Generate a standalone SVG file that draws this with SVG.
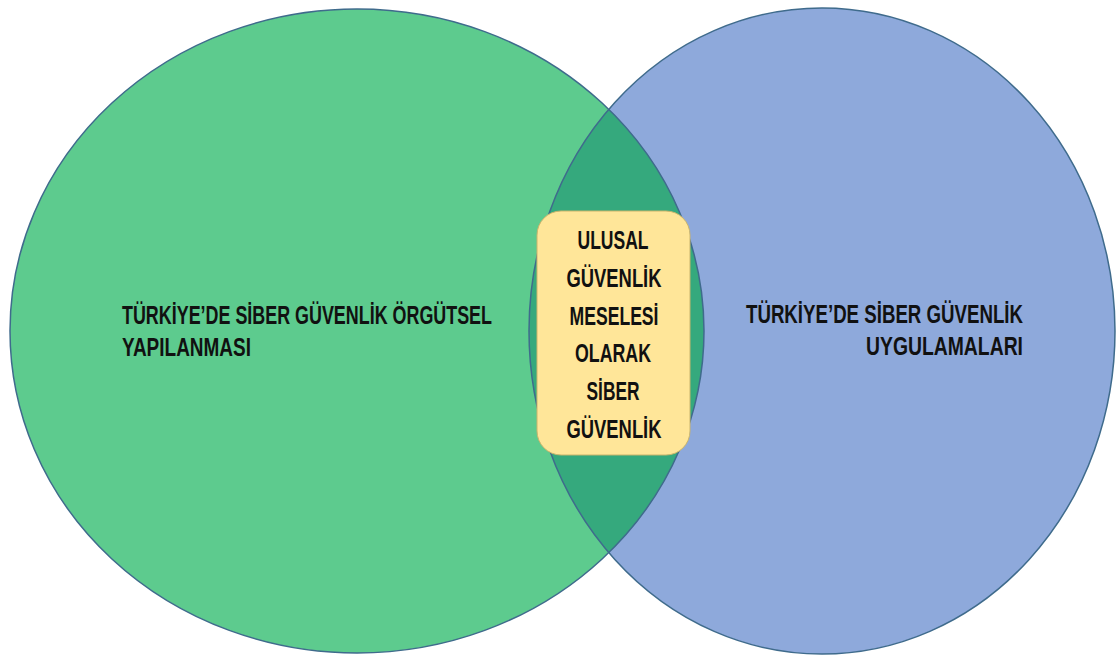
<svg xmlns="http://www.w3.org/2000/svg" width="1117" height="656" viewBox="0 0 1117 656">
  <style>
    .lbl { font-family: "Liberation Sans Narrow", "Liberation Sans", "DejaVu Sans Condensed", sans-serif; font-weight: bold; font-size: 26px; fill: #111111; }
    .ctr { text-anchor: middle; }
    .edge { fill: none; stroke: #3F6B8C; stroke-width: 1.5; }
  </style>
  <defs>
    <clipPath id="clipLeft">
      <ellipse cx="357" cy="331" rx="347" ry="322"/>
    </clipPath>
  </defs>
  <rect width="1117" height="656" fill="#ffffff"/>

  <!-- left set: organisational structure -->
  <g id="set-left">
    <ellipse cx="357" cy="331" rx="347" ry="322" fill="#5DCB8E"/>
  </g>

  <!-- right set: practices -->
  <g id="set-right">
    <ellipse cx="822" cy="331" rx="293" ry="323" fill="#8EA9DB"/>
  </g>

  <!-- overlap of the two sets -->
  <g id="overlap">
    <ellipse cx="822" cy="331" rx="293" ry="323" fill="#35A97D" clip-path="url(#clipLeft)"/>
    <ellipse class="edge" cx="357" cy="331" rx="347" ry="322"/>
    <ellipse class="edge" cx="822" cy="331" rx="293" ry="323"/>
  </g>

  <g id="label-left">
    <text class="lbl" x="122" y="324" textLength="370" lengthAdjust="spacingAndGlyphs">TÜRKİYE’DE SİBER GÜVENLİK ÖRGÜTSEL</text>
    <text class="lbl" x="122" y="356" textLength="129" lengthAdjust="spacingAndGlyphs">YAPILANMASI</text>
  </g>

  <g id="label-right">
    <text class="lbl" x="746" y="323" textLength="277" lengthAdjust="spacingAndGlyphs">TÜRKİYE’DE SİBER GÜVENLİK</text>
    <text class="lbl" x="866" y="355" textLength="157" lengthAdjust="spacingAndGlyphs">UYGULAMALARI</text>
  </g>

  <!-- centre box -->
  <g id="centre">
    <rect x="537" y="211" width="153" height="244" rx="24" ry="24" fill="#FFE699" stroke="#C9B46C" stroke-width="1"/>
    <text class="lbl ctr" x="613" y="249" textLength="71" lengthAdjust="spacingAndGlyphs">ULUSAL</text>
    <text class="lbl ctr" x="614" y="287" textLength="95" lengthAdjust="spacingAndGlyphs">GÜVENLİK</text>
    <text class="lbl ctr" x="614" y="325" textLength="89" lengthAdjust="spacingAndGlyphs">MESELESİ</text>
    <text class="lbl ctr" x="613" y="362" textLength="76" lengthAdjust="spacingAndGlyphs">OLARAK</text>
    <text class="lbl ctr" x="613" y="400" textLength="53" lengthAdjust="spacingAndGlyphs">SİBER</text>
    <text class="lbl ctr" x="614" y="438" textLength="95" lengthAdjust="spacingAndGlyphs">GÜVENLİK</text>
  </g>
</svg>
